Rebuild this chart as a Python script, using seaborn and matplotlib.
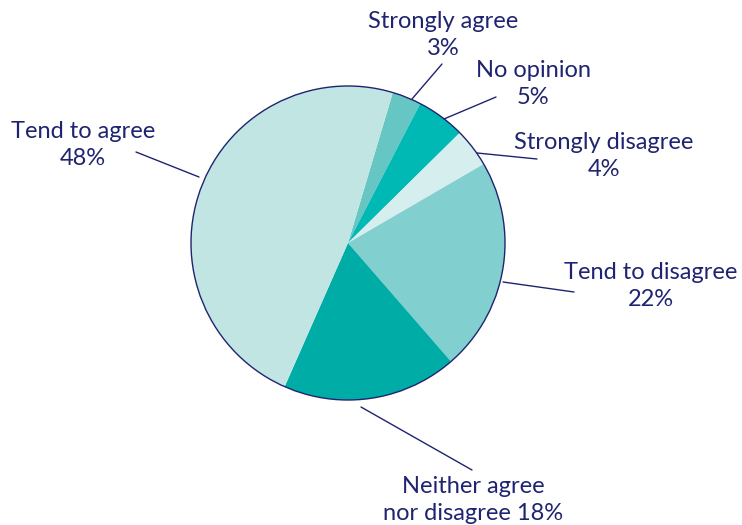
import matplotlib
matplotlib.use("Agg")
import matplotlib.pyplot as plt
from matplotlib.patches import Circle
import seaborn as sns

# Survey responses, clockwise from the top
categories = ["Strongly agree", "No opinion", "Strongly disagree",
              "Tend to disagree", "Neither agree\nnor disagree", "Tend to agree"]
shares = [3, 5, 4, 22, 18, 48]

palette = ["#66c6c4", "#00b8b4", "#d6eeee", "#82cfcf", "#00aca6", "#c0e5e3"]
navy = "#1f2470"

sns.set_theme(style="white")
plt.rcParams["font.family"] = ["Lato", "DejaVu Sans"]

W, H = 742, 525
fig = plt.figure(figsize=(W / 100, H / 100), dpi=100)
ax = fig.add_axes([0, 0, 1, 1])

cx, cy, r = 348, H - 243, 157
ax.pie(shares, colors=palette, startangle=73.4, counterclock=False,
       center=(cx, cy), radius=r, frame=True,
       wedgeprops=dict(linewidth=0))
ax.add_patch(Circle((cx, cy), r, fill=False, edgecolor=navy, linewidth=1.0))
ax.set_xlim(0, W)
ax.set_ylim(0, H)
ax.set_aspect("equal")
ax.axis("off")

# label anchors (text centre) and leader lines, in pixel units from top-left
text_pos = [(443, 35), (533, 84), (604, 156), (651, 286), (473, 500), (83, 145)]
leaders = [((412, 99), (442, 64)), ((444, 119), (496, 97)),
           ((477, 153), (537, 159)), ((503, 282), (574, 292)),
           ((361, 407), (472, 470)), ((136, 152), (199, 177))]

for cat, val, (tx, ty), (p0, p1) in zip(categories, shares, text_pos, leaders):
    if "\n" in cat:
        label = f"{cat} {val}%"
    else:
        label = f"{cat}\n{val}%"
    ax.text(tx, H - ty, label, ha="center", va="center", fontsize=17,
            color=navy, linespacing=1.35)
    ax.plot([p0[0], p1[0]], [H - p0[1], H - p1[1]], color=navy, linewidth=1.0)

fig.savefig("out.png", dpi=100)
